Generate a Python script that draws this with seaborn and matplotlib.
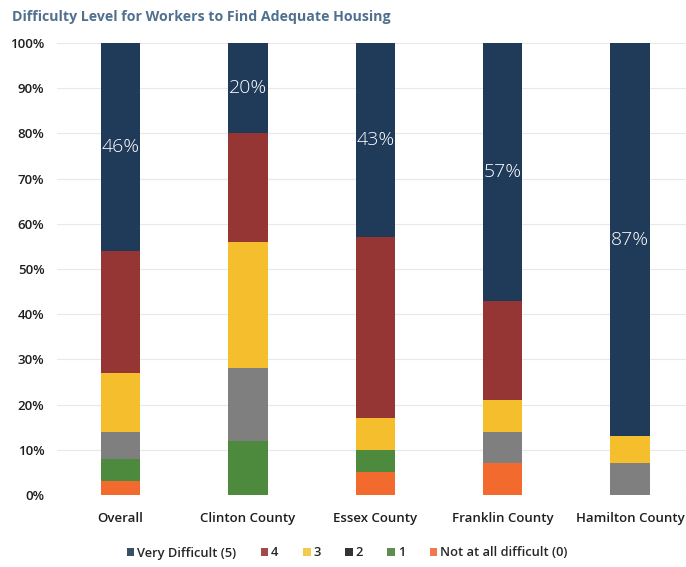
import matplotlib
matplotlib.use("Agg")
import matplotlib.pyplot as plt
from matplotlib.patches import Patch
import seaborn as sns
import pandas as pd
import numpy as np

# Survey responses by area, percent of respondents per difficulty level
areas = ["Overall", "Clinton County", "Essex County", "Franklin County", "Hamilton County"]
levels = ["Very Difficult (5)", "4", "3", "2", "1", "Not at all difficult (0)"]
very_difficult = [46, 20, 43, 57, 87]
level_4 = [27, 24, 40, 22, 0]
level_3 = [13, 28, 7, 7, 6]
level_2 = [6, 16, 0, 7, 7]
level_1 = [5, 12, 5, 0, 0]
not_difficult = [3, 0, 5, 7, 0]

colors = ["#203B5A", "#963634", "#F4BE2C", "#7F7F7F", "#4E8A3D", "#F26A2E"]
legend_colors = ["#3A4E66", "#A04A4A", "#F2CC4A", "#333333", "#5E8F4E", "#F07A4E"]

series = [very_difficult, level_4, level_3, level_2, level_1, not_difficult]

# cumulative tops, stacked from the bottom level upward
stack_order = series[::-1]
cum = np.cumsum(np.array(stack_order), axis=0)
tops = {}
for i, lvl in enumerate(levels[::-1]):
    tops[lvl] = cum[i]

rows = []
for lvl in levels:
    for a, v in zip(areas, tops[lvl]):
        rows.append({"area": a, "level": lvl, "top": v})
df = pd.DataFrame(rows)

sns.set_theme(style="white")
plt.rcParams["font.family"] = ["Open Sans", "DejaVu Sans"]

fig = plt.figure(figsize=(6.86, 5.67), dpi=100)
ax = fig.add_axes([57 / 686, 1 - 495 / 567, (686 - 57) / 686, (495 - 43) / 567])

# draw tallest cumulative first so each lower level covers it
for lvl, col in zip(levels, colors):
    sub = df[df["level"] == lvl]
    sns.barplot(data=sub, x="area", y="top", color=col, width=0.31,
                saturation=1, ax=ax, order=areas, linewidth=0, zorder=3)

ax.set_ylim(0, 100)
ax.set_xlim(-0.5, 4.44)
ax.set_yticks(np.arange(0, 101, 10))
ax.set_yticklabels([f"{t}%" for t in range(0, 101, 10)])
ax.yaxis.grid(True, color="#E8E8E8", linewidth=0.8, zorder=0)
ax.set_axisbelow(True)
for s in ax.spines.values():
    s.set_visible(False)
ax.set_xlabel("")
ax.set_ylabel("")
ax.tick_params(axis="y", length=0, pad=9, labelsize=9.5, labelcolor="#1E1E1E")
ax.tick_params(axis="x", length=0, pad=12, labelsize=9.5, labelcolor="#1E1E1E")
for lab in ax.get_yticklabels() + ax.get_xticklabels():
    lab.set_fontweight("semibold")

# value labels centred in the "Very Difficult" segment
for i, v in enumerate(very_difficult):
    ax.text(i, 100 - v / 2, f"{v}%", ha="center", va="center",
            color="white", fontsize=14, zorder=5, fontweight="light")

fig.text(12 / 686, 1 - 17 / 567, "Difficulty Level for Workers to Find Adequate Housing",
         fontsize=10.2, fontweight="bold", color="#50708F", ha="left", va="center")

handles = [Patch(facecolor=c, edgecolor="none") for c in legend_colors]
fig.legend(handles, levels, loc="center", bbox_to_anchor=(347 / 686, 1 - 553 / 567),
           ncol=6, frameon=False, handlelength=0.6, handleheight=0.6,
           handletextpad=0.2, columnspacing=1.9,
           prop={"weight": "semibold", "size": 9.3})

fig.savefig("out.png", dpi=100)
